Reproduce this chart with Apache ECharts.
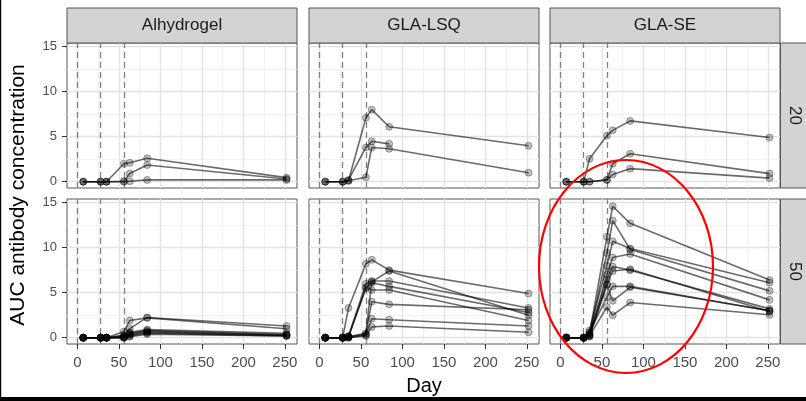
<!DOCTYPE html>
<html>
<head>
<meta charset="utf-8">
<script src="https://cdn.jsdelivr.net/npm/echarts@6/dist/echarts.min.js"></script>
<style>
  html, body { margin: 0; padding: 0; background: #fff; }
  #main { width: 806px; height: 401px; }
</style>
</head>
<body>
<div id="main"></div>
<script>
// sampling days and axis ticks
const days = [7, 28, 35, 56, 63, 84, 252];
const xTicks = [0, 50, 100, 150, 200, 250];
const yTicks = [0, 5, 10, 15];
const xMinor = [25, 75, 125, 175, 225];
const yMinor = [2.5, 7.5, 12.5];
const vaccineDays = [0, 28, 56];
const adjuvants = ['Alhydrogel', 'GLA-LSQ', 'GLA-SE'];
const doses = ['20', '50'];

// one row per subject, values at each of the days above
const alh20 = [
  [0, 0, 0, 2.0, 2.1, 2.6, 0.45],
  [0, 0, 0, 0.05, 0.9, 1.85, 0.3],
  [0, 0, 0, 0, 0.05, 0.2, 0.2]
];
const lsq20 = [
  [0, 0, 0.1, 7.1, 8.0, 6.1, 4.0],
  [0, 0, 0.2, 3.8, 4.5, 4.2, null],
  [0, 0, 0.1, 0.5, 3.8, 3.65, 1.0]
];
const se20 = [
  [0, 0, 2.55, 5.1, 5.7, 6.75, 4.9],
  [0, 0, 0, 0.2, 2.0, 3.1, 0.9],
  [0, 0, 0, 0.2, 0.8, 1.45, 0.4]
];
const alh50 = [
  [0, 0, 0, 0.3, 1.0, 2.25, 1.3],
  [0, 0, 0, 0.7, 1.9, 2.2, 1.0],
  [0, 0, 0, 0.2, 0.6, 0.9, 0.5],
  [0, 0, 0, 0.1, 0.5, 0.8, 0.35],
  [0, 0, 0, 0.1, 0.4, 0.7, 0.3],
  [0, 0, 0, 0, 0.3, 0.6, 0.25],
  [0, 0, 0, 0, 0.2, 0.5, 0.2],
  [0, 0, 0, 0, 0.1, 0.4, 0.2]
];
const lsq50 = [
  [0, 0, 3.3, 8.2, 8.65, 7.5, 4.9],
  [0, 0, 0.2, 6.0, 6.3, 6.3, 3.3],
  [0, 0, 0.1, 5.5, 6.1, 5.7, 2.8],
  [0, 0, 0.1, 0.5, 6.2, 7.4, 2.5],
  [0, 0, 0.1, 0.4, 4.0, 3.7, 3.1],
  [0, 0, 0, 0.3, 2.1, 2.0, 1.3],
  [0, 0, 0, 0.2, 1.2, 1.3, 0.6],
  [0, 0, 0.1, 5.6, 5.3, 5.3, 1.9]
];
const se50 = [
  [0, 0, 0.5, 11.2, 14.6, 12.7, 6.4],
  [0, 0, 0.3, 9.4, 13.0, 9.8, 5.2],
  [0, 0, 0.8, 8.0, 10.7, 9.9, 6.1],
  [0, 0, 0.2, 7.0, 8.9, 9.3, 4.2],
  [0, 0, 0.4, 6.5, 7.9, 7.5, 3.2],
  [0, 0, 0.1, 5.9, 7.4, 7.6, 2.9],
  [0, 0, 0.6, 4.5, 5.7, 5.7, 3.0],
  [0, 0, 0.3, 5.9, 4.1, 5.6, 3.0],
  [0, 0, 0.2, 3.4, 2.5, 3.9, 2.55]
];
const panels = [[alh20, lsq20, se20], [alh50, lsq50, se50]];

const font = '"Liberation Sans", Arial, sans-serif';
const colLeft = [67, 309, 550];
const rowTop = [43, 199];
const panelW = 230;
const panelH = 145;

var grid = [], xAxis = [], yAxis = [], series = [], graphic = [];

panels.forEach(function (row, r) {
  row.forEach(function (subjects, c) {
    const i = r * 3 + c;
    grid.push({
      left: colLeft[c], top: rowTop[r], width: panelW, height: panelH,
      show: true, backgroundColor: '#fff', borderColor: '#555', borderWidth: 1
    });
    xAxis.push({
      gridIndex: i, type: 'value', min: -12.6, max: 264.6,
      axisLine: { show: false, onZero: false },
      splitLine: { show: false },
      axisTick: { show: r === 1, length: 5, customValues: xTicks, lineStyle: { color: '#333' } },
      axisLabel: {
        show: r === 1, customValues: xTicks, margin: 11,
        fontFamily: font, fontSize: 15, color: '#4d4d4d'
      }
    });
    yAxis.push({
      gridIndex: i, type: 'value', min: -0.7, max: 15.4,
      axisLine: { show: false, onZero: false },
      splitLine: { show: false },
      axisTick: { show: c === 0, length: 5, customValues: yTicks, lineStyle: { color: '#333' } },
      axisLabel: {
        show: c === 0, customValues: yTicks, margin: 10,
        fontFamily: font, fontSize: 13, color: '#4d4d4d'
      }
    });

    // grid lines and the dashed vaccination days
    var marks = [];
    xMinor.forEach(v => marks.push({ xAxis: v, lineStyle: { color: '#ededed', width: 0.8, type: 'solid' } }));
    yMinor.forEach(v => marks.push({ yAxis: v, lineStyle: { color: '#ededed', width: 0.8, type: 'solid' } }));
    xTicks.forEach(v => marks.push({ xAxis: v, lineStyle: { color: '#e3e3e3', width: 1.4, type: 'solid' } }));
    yTicks.forEach(v => marks.push({ yAxis: v, lineStyle: { color: '#e3e3e3', width: 1.4, type: 'solid' } }));
    vaccineDays.forEach(v => marks.push({ xAxis: v, lineStyle: { color: '#808080', width: 1.3, type: [6, 4] } }));
    series.push({
      type: 'line', xAxisIndex: i, yAxisIndex: i, data: [], z: 1,
      markLine: {
        silent: true, symbol: ['none', 'none'], label: { show: false },
        animation: false, z: 1, data: marks
      }
    });

    subjects.forEach(function (vals) {
      series.push({
        type: 'line', xAxisIndex: i, yAxisIndex: i, z: 3,
        data: days.map((d, k) => [d, vals[k]]),
        symbol: 'circle', symbolSize: 7,
        lineStyle: { color: 'rgba(0,0,0,0.58)', width: 1.6 },
        itemStyle: { color: 'rgba(0,0,0,0.25)', borderColor: 'rgba(0,0,0,0.3)', borderWidth: 1 },
        silent: true
      });
    });
  });
});

// facet strips on top
adjuvants.forEach(function (name, c) {
  graphic.push({
    type: 'rect', z: 50,
    shape: { x: colLeft[c], y: 8, width: panelW, height: 35 },
    style: { fill: '#d3d3d3', stroke: '#555', lineWidth: 1 }
  });
  graphic.push({
    type: 'text', z: 51, x: colLeft[c] + panelW / 2, y: 25.5,
    style: {
      text: name, font: '17px ' + font, fill: '#1a1a1a',
      align: 'center', verticalAlign: 'middle', textAlign: 'center', textVerticalAlign: 'middle'
    }
  });
});
// facet strips on the right
doses.forEach(function (name, r) {
  graphic.push({
    type: 'rect', z: 50,
    shape: { x: 780.5, y: rowTop[r], width: 40, height: panelH },
    style: { fill: '#d3d3d3', stroke: '#555', lineWidth: 1 }
  });
  graphic.push({
    type: 'text', z: 51, x: 795, y: rowTop[r] + panelH / 2, rotation: -Math.PI / 2,
    style: {
      text: name, font: '17px ' + font, fill: '#1a1a1a',
      align: 'center', verticalAlign: 'middle', textAlign: 'center', textVerticalAlign: 'middle'
    }
  });
});

// axis titles
graphic.push({
  type: 'text', z: 51, x: 424, y: 386,
  style: {
    text: 'Day', font: '20px ' + font, fill: '#000',
    align: 'center', verticalAlign: 'middle', textAlign: 'center', textVerticalAlign: 'middle'
  }
});
graphic.push({
  type: 'text', z: 51, x: 18, y: 195, rotation: Math.PI / 2,
  style: {
    text: 'AUC antibody concentration', font: '21px ' + font, fill: '#000',
    align: 'center', verticalAlign: 'middle', textAlign: 'center', textVerticalAlign: 'middle'
  }
});

// red highlight ellipse
graphic.push({
  type: 'ellipse', z: 100,
  shape: { cx: 626, cy: 266.5, rx: 87, ry: 106.5 },
  style: { fill: 'none', stroke: '#ff0000', lineWidth: 2.2 }
});

// screenshot frame
graphic.push({ type: 'rect', z: 100, shape: { x: 0, y: 0, width: 1.2, height: 401 }, style: { fill: '#000' } });
graphic.push({ type: 'rect', z: 100, shape: { x: 0, y: 397, width: 806, height: 4 }, style: { fill: '#000' } });

var chart = echarts.init(document.getElementById('main'), null, { renderer: 'canvas' });
var option = {
  backgroundColor: '#fff',
  animation: false,
  grid: grid,
  xAxis: xAxis,
  yAxis: yAxis,
  series: series,
  graphic: graphic
};
chart.setOption(option);
</script>
</body>
</html>
